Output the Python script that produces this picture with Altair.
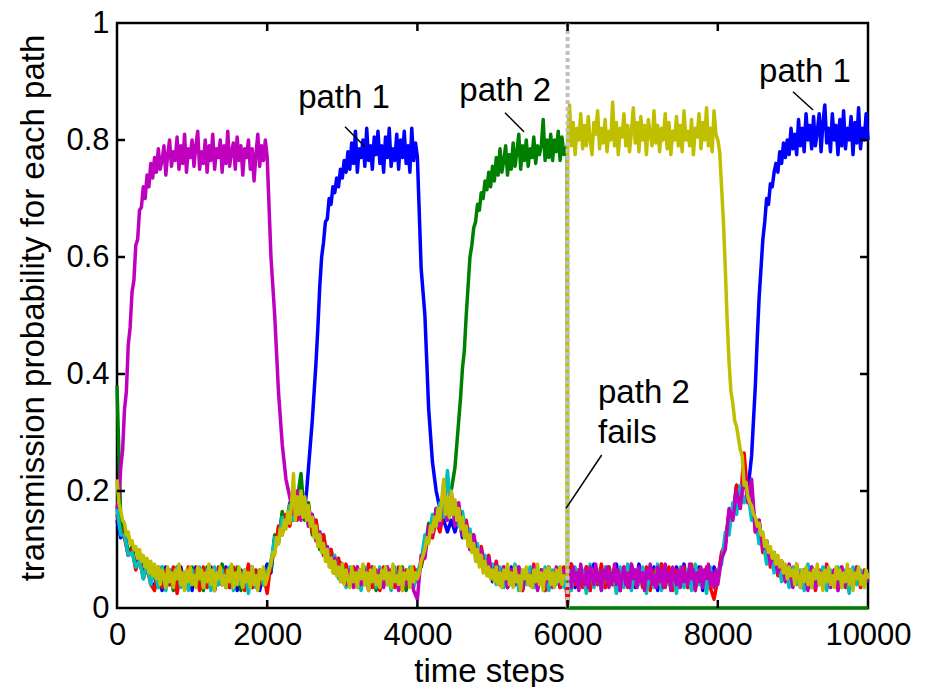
import altair as alt
import pandas as pd

# ---- sample times for each path (dense sampling where a path is drawn on top) ----
t_blue = (list(range(0, 2451, 50)) + list(range(2500, 4001, 25))
          + list(range(4050, 8451, 50)) + list(range(8500, 10001, 25)))
t_green = list(range(0, 4451, 50)) + list(range(4500, 5951, 25)) + [5995, 6000, 10000]
t_red = list(range(0, 10001, 50))
t_cyan = list(range(0, 10001, 50))
t_magenta = (list(range(0, 2001, 25)) + list(range(2050, 5951, 50))
             + list(range(6000, 8001, 25)) + list(range(8050, 10001, 50)))
t_yellow = list(range(0, 5951, 25)) + [5995] + list(range(6000, 10001, 25))

series_names = ["blue", "green", "red", "cyan", "magenta", "yellow"]
series_colors = ["#0000FF", "#008000", "#FF0000", "#00BFBF", "#BF00BF", "#BFBF00"]

p_blue = [
    0.15, 0.12, 0.13, 0.09, 0.10, 0.07, 0.085, 0.055, 0.075, 0.045,
    0.035, 0.065, 0.03, 0.07, 0.04, 0.065, 0.035, 0.07, 0.04, 0.06,
    0.03, 0.07, 0.035, 0.065, 0.04, 0.07, 0.03, 0.065, 0.04, 0.07,
    0.035, 0.06, 0.03, 0.065, 0.04, 0.07, 0.035, 0.06, 0.03, 0.06,
    0.075, 0.06, 0.12, 0.115, 0.16, 0.14, 0.17, 0.15, 0.185, 0.16,
    # 2500-4000 every 25
    0.17, 0.20, 0.24, 0.28, 0.32, 0.37, 0.42, 0.48, 0.55, 0.60,
    0.625, 0.66, 0.665, 0.70, 0.69, 0.72, 0.71, 0.735, 0.72, 0.75,
    0.735, 0.765, 0.745, 0.78, 0.75, 0.795, 0.76, 0.815, 0.745, 0.785,
    0.77, 0.80, 0.755, 0.82, 0.765, 0.79, 0.75, 0.805, 0.775, 0.815,
    0.76, 0.79, 0.745, 0.805, 0.77, 0.82, 0.755, 0.785, 0.765, 0.81,
    0.75, 0.80, 0.77, 0.815, 0.76, 0.79, 0.745, 0.82, 0.765, 0.795,
    0.77,
    # 4050-8450 every 50
    0.58, 0.50, 0.34, 0.25, 0.20, 0.17, 0.15, 0.13, 0.15,
    0.13, 0.155, 0.12, 0.14, 0.10, 0.115, 0.08, 0.095, 0.065, 0.08,
    0.045, 0.07, 0.04, 0.065, 0.035, 0.07, 0.04, 0.06, 0.03, 0.065,
    0.04, 0.07, 0.035, 0.065, 0.03, 0.07, 0.04, 0.065, 0.035, 0.06,
    0.04, 0.075, 0.035, 0.065, 0.04, 0.07, 0.03, 0.075, 0.04, 0.065,
    0.035, 0.07, 0.04, 0.075, 0.03, 0.065, 0.04, 0.07, 0.035, 0.075,
    0.04, 0.065, 0.035, 0.07, 0.03, 0.075, 0.04, 0.065, 0.035, 0.07,
    0.04, 0.075, 0.035, 0.065, 0.04, 0.07, 0.03, 0.065, 0.04, 0.07,
    0.05, 0.09, 0.11, 0.16, 0.16, 0.21, 0.19, 0.23, 0.20, 0.26,
    # 8500-10000 every 25
    0.38, 0.46, 0.53, 0.58, 0.63, 0.66, 0.70, 0.69, 0.725, 0.72,
    0.745, 0.76, 0.745, 0.78, 0.76, 0.795, 0.77, 0.80, 0.775, 0.82,
    0.785, 0.81, 0.775, 0.835, 0.79, 0.82, 0.78, 0.845, 0.80, 0.825,
    0.785, 0.84, 0.79, 0.815, 0.845, 0.78, 0.83, 0.86, 0.795, 0.82,
    0.78, 0.845, 0.80, 0.825, 0.775, 0.835, 0.79, 0.85, 0.785, 0.82,
    0.80, 0.84, 0.775, 0.83, 0.795, 0.855, 0.785, 0.82, 0.80, 0.845,
    0.80,
]

p_green = [
    0.38, 0.15, 0.13, 0.095, 0.105, 0.07, 0.09, 0.055, 0.075, 0.045,
    0.065, 0.035, 0.07, 0.04, 0.065, 0.03, 0.07, 0.04, 0.06, 0.035,
    0.07, 0.04, 0.065, 0.03, 0.07, 0.035, 0.06, 0.04, 0.075, 0.035,
    0.065, 0.04, 0.07, 0.03, 0.06, 0.04, 0.07, 0.035, 0.065, 0.04,
    0.065, 0.065, 0.125, 0.11, 0.165, 0.14, 0.18, 0.15, 0.185, 0.23,
    0.15, 0.18, 0.125, 0.15, 0.10, 0.125, 0.08, 0.10, 0.06, 0.08,
    0.075, 0.045, 0.065, 0.04, 0.07, 0.035, 0.065, 0.04, 0.07, 0.03,
    0.065, 0.04, 0.07, 0.035, 0.065, 0.04, 0.07, 0.03, 0.065, 0.04,
    0.065, 0.07, 0.10, 0.145, 0.13, 0.17, 0.15, 0.18, 0.16, 0.20,
    # 4500-5950 every 25
    0.24, 0.28, 0.32, 0.36, 0.41, 0.44, 0.50, 0.55, 0.60, 0.62,
    0.65, 0.66, 0.69, 0.68, 0.71, 0.70, 0.73, 0.715, 0.745, 0.72,
    0.755, 0.73, 0.77, 0.74, 0.785, 0.745, 0.765, 0.79, 0.74, 0.775,
    0.75, 0.795, 0.755, 0.78, 0.81, 0.75, 0.79, 0.765, 0.80, 0.755,
    0.785, 0.77, 0.805, 0.76, 0.79, 0.775, 0.79, 0.835, 0.765, 0.80,
    0.77, 0.81, 0.765, 0.80, 0.78, 0.815, 0.765, 0.805, 0.775,
    # 5995, then the path fails
    0.79, 0.0, 0.0,
]

p_red = [
    0.16, 0.13, 0.12, 0.09, 0.10, 0.065, 0.085, 0.05, 0.07, 0.04,
    0.03, 0.07, 0.035, 0.065, 0.04, 0.07, 0.025, 0.065, 0.035, 0.07,
    0.04, 0.065, 0.03, 0.07, 0.035, 0.06, 0.03, 0.07, 0.04, 0.065,
    0.035, 0.07, 0.04, 0.06, 0.03, 0.075, 0.035, 0.065, 0.04, 0.06,
    0.025, 0.08, 0.095, 0.14, 0.125, 0.16, 0.14, 0.17, 0.15, 0.18,
    0.155, 0.175, 0.13, 0.15, 0.105, 0.125, 0.085, 0.10, 0.065, 0.085,
    0.045, 0.075, 0.04, 0.07, 0.035, 0.065, 0.04, 0.075, 0.035, 0.065,
    0.03, 0.07, 0.04, 0.065, 0.035, 0.07, 0.03, 0.065, 0.04, 0.07,
    0.045, 0.075, 0.095, 0.13, 0.12, 0.15, 0.13, 0.165, 0.15, 0.18,
    0.15, 0.175, 0.13, 0.15, 0.11, 0.125, 0.09, 0.105, 0.07, 0.09,
    0.05, 0.08, 0.04, 0.07, 0.035, 0.065, 0.04, 0.07, 0.03, 0.065,
    0.04, 0.075, 0.035, 0.065, 0.03, 0.07, 0.04, 0.065, 0.035, 0.07,
    0.01, 0.075, 0.04, 0.065, 0.035, 0.07, 0.03, 0.065, 0.04, 0.075,
    0.035, 0.07, 0.04, 0.065, 0.03, 0.07, 0.035, 0.075, 0.04, 0.065,
    0.035, 0.07, 0.03, 0.065, 0.04, 0.075, 0.035, 0.07, 0.03, 0.065,
    0.04, 0.07, 0.035, 0.075, 0.03, 0.065, 0.04, 0.07, 0.035, 0.015,
    0.05, 0.095, 0.11, 0.165, 0.155, 0.21, 0.18, 0.265, 0.19, 0.20,
    0.13, 0.15, 0.095, 0.115, 0.07, 0.095, 0.055, 0.08, 0.045, 0.07,
    0.04, 0.075, 0.035, 0.065, 0.04, 0.07, 0.03, 0.065, 0.035, 0.075,
    0.04, 0.065, 0.03, 0.07, 0.035, 0.065, 0.04, 0.07, 0.035, 0.065,
    0.045,
]

p_cyan = [
    0.17, 0.125, 0.125, 0.09, 0.095, 0.07, 0.08, 0.05, 0.075, 0.04,
    0.065, 0.035, 0.07, 0.03, 0.065, 0.04, 0.07, 0.035, 0.06, 0.03,
    0.065, 0.04, 0.07, 0.035, 0.065, 0.03, 0.07, 0.04, 0.065, 0.035,
    0.07, 0.03, 0.06, 0.04, 0.065, 0.025, 0.07, 0.035, 0.065, 0.04,
    0.06, 0.08, 0.12, 0.115, 0.155, 0.14, 0.175, 0.15, 0.18, 0.16,
    0.17, 0.14, 0.16, 0.115, 0.13, 0.09, 0.105, 0.07, 0.09, 0.05,
    0.075, 0.035, 0.07, 0.04, 0.065, 0.03, 0.07, 0.04, 0.065, 0.035,
    0.07, 0.04, 0.065, 0.03, 0.07, 0.035, 0.065, 0.04, 0.07, 0.035,
    0.06, 0.08, 0.125, 0.115, 0.16, 0.14, 0.18, 0.155, 0.235, 0.16,
    0.18, 0.14, 0.165, 0.12, 0.135, 0.095, 0.11, 0.075, 0.09, 0.055,
    0.075, 0.04, 0.07, 0.035, 0.065, 0.04, 0.075, 0.03, 0.065, 0.04,
    0.07, 0.035, 0.065, 0.04, 0.07, 0.03, 0.065, 0.04, 0.07, 0.035,
    0.065, 0.03, 0.07, 0.04, 0.065, 0.025, 0.075, 0.035, 0.065, 0.03,
    0.07, 0.04, 0.065, 0.025, 0.07, 0.035, 0.075, 0.03, 0.065, 0.04,
    0.07, 0.025, 0.065, 0.035, 0.075, 0.03, 0.07, 0.04, 0.065, 0.025,
    0.07, 0.035, 0.065, 0.03, 0.075, 0.04, 0.065, 0.025, 0.07, 0.035,
    0.06, 0.075, 0.13, 0.125, 0.18, 0.16, 0.21, 0.18, 0.20, 0.15,
    0.155, 0.11, 0.12, 0.075, 0.095, 0.06, 0.08, 0.045, 0.07, 0.035,
    0.07, 0.04, 0.065, 0.03, 0.075, 0.035, 0.065, 0.04, 0.07, 0.03,
    0.065, 0.04, 0.07, 0.035, 0.065, 0.025, 0.07, 0.04, 0.065, 0.035,
    0.06,
]

p_magenta = [
    # 0-2000 every 25
    0.17, 0.19, 0.24, 0.27, 0.34, 0.37, 0.45, 0.48, 0.54, 0.56,
    0.62, 0.63, 0.68, 0.685, 0.72, 0.70, 0.74, 0.72, 0.76, 0.735,
    0.77, 0.745, 0.785, 0.75, 0.765, 0.79, 0.74, 0.775, 0.80, 0.755,
    0.78, 0.765, 0.805, 0.75, 0.79, 0.76, 0.81, 0.745, 0.785, 0.77,
    0.80, 0.755, 0.79, 0.815, 0.75, 0.78, 0.76, 0.80, 0.745, 0.79,
    0.765, 0.81, 0.75, 0.785, 0.77, 0.80, 0.745, 0.79, 0.76, 0.815,
    0.755, 0.78, 0.795, 0.75, 0.805, 0.765, 0.79, 0.74, 0.785, 0.77,
    0.80, 0.75, 0.785, 0.73, 0.775, 0.81, 0.755, 0.79, 0.765, 0.80,
    0.77,
    # 2050-5950 every 50
    0.60, 0.50, 0.37, 0.28, 0.22, 0.19, 0.16, 0.20, 0.15,
    0.18, 0.14, 0.16, 0.115, 0.13, 0.09, 0.105, 0.07, 0.085, 0.055,
    0.075, 0.04, 0.065, 0.035, 0.07, 0.04, 0.065, 0.03, 0.07, 0.04,
    0.065, 0.035, 0.07, 0.04, 0.06, 0.03, 0.065, 0.04, 0.06, 0.03,
    0.015, 0.09, 0.085, 0.14, 0.125, 0.17, 0.14, 0.21, 0.15, 0.20,
    0.14, 0.18, 0.125, 0.145, 0.10, 0.125, 0.08, 0.10, 0.065, 0.085,
    0.05, 0.075, 0.04, 0.07, 0.035, 0.065, 0.04, 0.07, 0.035, 0.065,
    0.04, 0.07, 0.03, 0.065, 0.04, 0.06, 0.035, 0.07, 0.04, 0.065,
    # 6000-8000 every 25
    0.05, 0.065, 0.035, 0.07, 0.045, 0.06, 0.03, 0.075, 0.05, 0.04,
    0.065, 0.035, 0.07, 0.055, 0.04, 0.075, 0.045, 0.06, 0.03, 0.065,
    0.05, 0.07, 0.035, 0.06, 0.045, 0.075, 0.04, 0.065, 0.03, 0.055,
    0.07, 0.04, 0.06, 0.035, 0.075, 0.05, 0.065, 0.035, 0.07, 0.045,
    0.06, 0.03, 0.065, 0.05, 0.075, 0.04, 0.055, 0.035, 0.07, 0.045,
    0.065, 0.035, 0.075, 0.045, 0.06, 0.03, 0.07, 0.05, 0.04, 0.065,
    0.035, 0.07, 0.045, 0.06, 0.04, 0.075, 0.05, 0.065, 0.03, 0.06,
    0.045, 0.07, 0.035, 0.065, 0.05, 0.075, 0.04, 0.06, 0.035, 0.065,
    0.04,
    # 8050-10000 every 50
    0.085, 0.10, 0.17, 0.15, 0.20, 0.17, 0.23, 0.18, 0.22,
    0.13, 0.15, 0.10, 0.115, 0.075, 0.095, 0.06, 0.08, 0.045, 0.075,
    0.035, 0.07, 0.04, 0.065, 0.03, 0.07, 0.035, 0.065, 0.04, 0.07,
    0.035, 0.065, 0.03, 0.07, 0.04, 0.065, 0.035, 0.07, 0.04, 0.06,
    0.045,
]

p_yellow = [
    0.22, 0.18, 0.165, 0.15, 0.145, 0.125, 0.13, 0.11, 0.115, 0.10,
    0.105, 0.085, 0.10, 0.08, 0.09, 0.07, 0.085, 0.06, 0.08, 0.055,
    0.075, 0.05, 0.07, 0.04, 0.065, 0.055, 0.035, 0.07, 0.045, 0.06,
    0.035, 0.065, 0.05, 0.075, 0.04, 0.06, 0.03, 0.065, 0.045, 0.07,
    0.04, 0.055, 0.035, 0.07, 0.05, 0.065, 0.035, 0.06, 0.045, 0.075,
    0.04, 0.065, 0.03, 0.06, 0.05, 0.07, 0.04, 0.055, 0.035, 0.065,
    0.045, 0.075, 0.035, 0.06, 0.04, 0.07, 0.05, 0.035, 0.065, 0.045,
    0.06, 0.035, 0.07, 0.04, 0.055, 0.03, 0.065, 0.05, 0.07, 0.04,
    0.05, 0.065, 0.075, 0.095, 0.09, 0.12, 0.11, 0.135, 0.125, 0.15,
    0.135, 0.165, 0.145, 0.18, 0.23, 0.15, 0.19, 0.16, 0.20, 0.155,
    0.19, 0.15, 0.175, 0.14, 0.155, 0.12, 0.14, 0.105, 0.125, 0.095,
    0.11, 0.08, 0.10, 0.07, 0.085, 0.06, 0.08, 0.055, 0.07, 0.045,
    0.075, 0.04, 0.065, 0.05, 0.035, 0.07, 0.045, 0.06, 0.035, 0.065,
    0.05, 0.075, 0.04, 0.06, 0.03, 0.065, 0.045, 0.07, 0.04, 0.055,
    0.035, 0.065, 0.05, 0.07, 0.04, 0.06, 0.035, 0.075, 0.045, 0.055,
    0.04, 0.07, 0.03, 0.06, 0.05, 0.065, 0.035, 0.07, 0.045, 0.06,
    0.05, 0.06, 0.08, 0.09, 0.10, 0.12, 0.11, 0.14, 0.13, 0.155,
    0.14, 0.17, 0.15, 0.185, 0.22, 0.16, 0.19, 0.155, 0.20, 0.16,
    0.185, 0.15, 0.17, 0.135, 0.155, 0.12, 0.14, 0.105, 0.125, 0.095,
    0.11, 0.08, 0.10, 0.07, 0.09, 0.06, 0.08, 0.055, 0.07, 0.05,
    0.065, 0.045, 0.07, 0.04, 0.06, 0.035, 0.065, 0.05, 0.075, 0.04,
    0.06, 0.035, 0.07, 0.045, 0.055, 0.03, 0.065, 0.05, 0.07, 0.04,
    0.055, 0.035, 0.065, 0.045, 0.075, 0.04, 0.06, 0.03, 0.065, 0.05,
    0.07, 0.04, 0.06, 0.035, 0.065, 0.045, 0.07, 0.04, 0.055, 0.05,
    # 6000-8000: path 2 has failed
    0.80, 0.86, 0.79, 0.83, 0.775, 0.82, 0.80, 0.845, 0.785, 0.825,
    0.79, 0.84, 0.80, 0.775, 0.83, 0.81, 0.85, 0.785, 0.82, 0.795,
    0.835, 0.78, 0.815, 0.80, 0.865, 0.79, 0.83, 0.775, 0.82, 0.805,
    0.845, 0.79, 0.825, 0.78, 0.815, 0.855, 0.795, 0.83, 0.78, 0.84,
    0.80, 0.825, 0.775, 0.835, 0.81, 0.79, 0.85, 0.795, 0.825, 0.78,
    0.82, 0.80, 0.845, 0.785, 0.83, 0.775, 0.815, 0.80, 0.84, 0.79,
    0.825, 0.78, 0.85, 0.80, 0.815, 0.79, 0.835, 0.775, 0.82, 0.805,
    0.845, 0.785, 0.83, 0.80, 0.855, 0.79, 0.82, 0.78, 0.85, 0.81,
    0.80, 0.78, 0.72, 0.66, 0.58, 0.49, 0.42, 0.37, 0.35, 0.32,
    0.31, 0.29, 0.27, 0.26, 0.21, 0.215, 0.19, 0.18, 0.175, 0.16,
    0.155, 0.14, 0.145, 0.125, 0.13, 0.105, 0.115, 0.095, 0.105, 0.085,
    0.095, 0.075, 0.09, 0.07, 0.08, 0.06, 0.075, 0.05, 0.07, 0.055,
    0.065, 0.04, 0.075, 0.05, 0.035, 0.065, 0.045, 0.07, 0.04, 0.06,
    0.035, 0.065, 0.05, 0.075, 0.04, 0.06, 0.03, 0.065, 0.045, 0.07,
    0.04, 0.055, 0.035, 0.07, 0.05, 0.065, 0.035, 0.06, 0.045, 0.075,
    0.04, 0.065, 0.03, 0.06, 0.05, 0.07, 0.04, 0.055, 0.035, 0.065,
    0.05,
]

series_times = [t_blue, t_green, t_red, t_cyan, t_magenta, t_yellow]
series_values = [p_blue, p_green, p_red, p_cyan, p_magenta, p_yellow]

x_ticks = [0, 2000, 4000, 6000, 8000, 10000]
y_ticks = [0, 0.2, 0.4, 0.6, 0.8, 1]
inner_x_ticks = [2000, 4000, 6000, 8000]
inner_y_ticks = [0.2, 0.4, 0.6, 0.8]

failure_time = [6000]

# annotations
center_text = ["path 1", "path 2", "path 1"]
center_x = [3023, 5169, 9161]
center_y = [0.855, 0.867, 0.900]
left_text = ["path 2", "fails"]
left_x = [6405, 6405]
left_y = [0.350, 0.2815]
lead_x = [3036, 5166, 9001, 6454]
lead_y = [0.8227, 0.8467, 0.8826, 0.2615]
lead_x2 = [3302, 5419, 9268, 5979]
lead_y2 = [0.7885, 0.8142, 0.8513, 0.1704]

W, H = 751, 585
FONT = "Liberation Sans"

rows = []
for name, ts, vals in zip(series_names, series_times, series_values):
    assert len(vals) == len(ts), (name, len(vals), len(ts))
    for i, (t, v) in enumerate(zip(ts, vals)):
        rows.append({"series": name, "t": t, "p": v, "i": i})
df = pd.DataFrame(rows)

x_scale = alt.Scale(domain=[0, 10000], nice=False, zero=False)
y_scale = alt.Scale(domain=[0, 1], nice=False, zero=False)

x_axis = alt.Axis(values=x_ticks, format="d", ticks=False, domain=False, grid=False,
                  labelPadding=12, labelFlush=False, labelOverlap=False, labelBound=False,
                  title="time steps", titleX=372, titleY=73, titleAlign="center",
                  titleBaseline="alphabetic", titleAnchor="start")
y_axis = alt.Axis(values=y_ticks, format=".1~f", ticks=False, domain=False, grid=False,
                  labelPadding=8, labelFlush=False, labelOverlap=False, labelBound=False,
                  title="transmission probability for each path", titleX=-74, titleY=284.5,
                  titleAngle=270, titleAlign="center", titleBaseline="alphabetic",
                  titleAnchor="start")

base = alt.Chart(df).encode(
    x=alt.X("t:Q", scale=x_scale, axis=x_axis),
    y=alt.Y("p:Q", scale=y_scale, axis=y_axis),
    order=alt.Order("i:Q"),
)

layers = []
for name, color in zip(series_names, series_colors):
    layers.append(
        base.transform_filter(alt.datum.series == name)
        .mark_line(color=color, strokeWidth=3.5, strokeJoin="round")
    )

fail_df = pd.DataFrame({"t": failure_time, "y0": [0], "y1": [1]})
fail_rule = alt.Chart(fail_df).mark_rule(color="#C0C0C0", strokeWidth=4, strokeDash=[4, 3]).encode(
    x=alt.X("t:Q", scale=x_scale), y=alt.Y("y0:Q", scale=y_scale), y2="y1:Q"
)

xt_df = pd.DataFrame({"t": inner_x_ticks})
yt_df = pd.DataFrame({"v": inner_y_ticks})
tick_style = dict(color="black", strokeWidth=2.5)
ticks_bottom = alt.Chart(xt_df).mark_rule(**tick_style).encode(
    x=alt.X("t:Q", scale=x_scale), y=alt.value(H), y2=alt.value(H - 8))
ticks_top = alt.Chart(xt_df).mark_rule(**tick_style).encode(
    x=alt.X("t:Q", scale=x_scale), y=alt.value(0), y2=alt.value(8))
ticks_left = alt.Chart(yt_df).mark_rule(**tick_style).encode(
    y=alt.Y("v:Q", scale=y_scale), x=alt.value(0), x2=alt.value(8))
ticks_right = alt.Chart(yt_df).mark_rule(**tick_style).encode(
    y=alt.Y("v:Q", scale=y_scale), x=alt.value(W), x2=alt.value(W - 8))

lead_df = pd.DataFrame({"x": lead_x, "y": lead_y, "x2": lead_x2, "y2": lead_y2})
leaders = alt.Chart(lead_df).mark_rule(color="black", strokeWidth=1.5).encode(
    x=alt.X("x:Q", scale=x_scale), y=alt.Y("y:Q", scale=y_scale), x2="x2:Q", y2="y2:Q")

ctext_df = pd.DataFrame({"x": center_x, "y": center_y, "label": center_text})
ctext = alt.Chart(ctext_df).mark_text(font=FONT, fontSize=33, align="center",
                                      baseline="alphabetic", color="black").encode(
    x=alt.X("x:Q", scale=x_scale), y=alt.Y("y:Q", scale=y_scale), text="label:N")
ltext_df = pd.DataFrame({"x": left_x, "y": left_y, "label": left_text})
ltext = alt.Chart(ltext_df).mark_text(font=FONT, fontSize=33, align="left",
                                      baseline="alphabetic", color="black").encode(
    x=alt.X("x:Q", scale=x_scale), y=alt.Y("y:Q", scale=y_scale), text="label:N")

chart = alt.layer(
    *layers, fail_rule, ticks_bottom, ticks_top, ticks_left, ticks_right, leaders, ctext, ltext
).properties(
    width=W, height=H,
    autosize=alt.AutoSizeParams(type="none"),
    padding={"left": 109, "top": 15, "right": 53, "bottom": 80},
    background="white",
).configure_view(
    stroke="black", strokeWidth=2.5
).configure_axis(
    labelFont=FONT, labelFontSize=31, labelColor="black",
    titleFont=FONT, titleFontSize=33, titleColor="black", titleFontWeight="normal",
)

chart.save("out.html", embed_options={"renderer": "svg", "actions": False})
